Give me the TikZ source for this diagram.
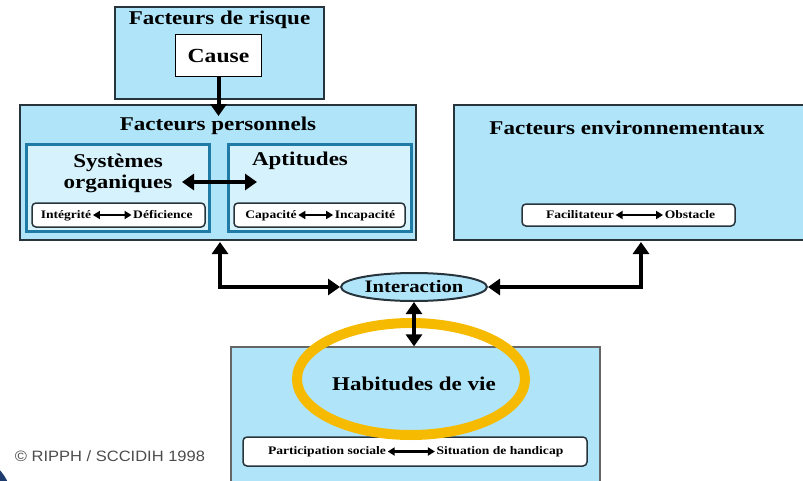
\documentclass[tikz,border=0pt]{standalone}
\usepackage{fontspec}
\setmainfont{Liberation Serif}[FakeStretch=1.18]
\newfontfamily\copyfont{Liberation Sans}[FakeStretch=1.1]
\usepackage{xcolor}
\usetikzlibrary{arrows.meta,shapes.geometric}
\definecolor{paleblue}{RGB}{176,229,249}
\definecolor{innerblue}{RGB}{214,242,252}
\definecolor{tealline}{RGB}{32,122,166}
\definecolor{boxline}{RGB}{40,52,60}
\definecolor{ringorange}{RGB}{246,186,0}
\definecolor{cornerblue}{RGB}{30,60,110}
\tikzset{
outerbox/.style={draw=boxline, fill=paleblue, line width=2pt, inner sep=0pt},
innerbox/.style={draw=tealline, fill=innerblue, line width=3pt, inner sep=0pt},
scalebox/.style={draw=boxline, fill=white, line width=1.5pt, rounded corners=4pt, inner sep=0pt},
title/.style={font=\fontsize{19.5}{21}\selectfont\bfseries, inner sep=0pt},
small/.style={font=\fontsize{11.5}{13}\selectfont\bfseries, inner sep=1.5pt, text height=8pt, text depth=2pt},
bigarrow/.style={line width=4pt, {Triangle[width=16pt,length=12pt]}-{Triangle[width=16pt,length=12pt]}},
smallarrow/.style={line width=2.2pt, {Triangle[width=8pt,length=7pt]}-{Triangle[width=8pt,length=7pt]}}
}

\begin{document}
\begin{tikzpicture}[x=1pt,y=-1pt]
 \useasboundingbox (0,0) rectangle (803,480);

 % risk factors and cause
 \node[outerbox, minimum width=209pt, minimum height=92pt] (risque) at (219.5,52.5) {};
 \node[title] (risquelabel) at (219.5,20) {Facteurs de risque};
 \node[draw=black, fill=white, line width=1.5pt, minimum width=86pt, minimum height=42pt, inner sep=0pt, font=\fontsize{20}{22}\selectfont\bfseries] (cause) at (218.5,55.5) {Cause};

 % personal factors
 \node[outerbox, minimum width=396pt, minimum height=135pt] (perso) at (218,172.5) {};
 \node[title] (persolabel) at (218,126) {Facteurs personnels};
 \node[innerbox, minimum width=183pt, minimum height=87pt] (systemes) at (118,188) {};
 \node[innerbox, minimum width=183pt, minimum height=87pt] (aptitudes) at (320,188) {};
 \node[title, align=center] (systlabel) at (118,173) {Systèmes\\organiques};
 \node[title] (aptlabel) at (300,161) {Aptitudes};
 \coordinate (systeast) at (182,182);
 \coordinate (aptwest) at (257,182);

 \node[scalebox, minimum width=173pt, minimum height=24pt] (integbox) at (118.5,215) {};
 \node[small] (integ) at (66,215) {Intégrité};
 \node[small] (defic) at (163,215) {Déficience};
 \node[scalebox, minimum width=171pt, minimum height=24pt] (capbox) at (319.5,215) {};
 \node[small] (capa) at (271,215) {Capacité};
 \node[small] (incapa) at (365,215) {Incapacité};

 % environmental factors
 \node[outerbox, minimum width=356pt, minimum height=135pt] (env) at (632,172.5) {};
 \node[title] (envlabel) at (627,128) {Facteurs environnementaux};
 \node[scalebox, minimum width=213pt, minimum height=22pt] (facbox) at (628.5,215) {};
 \node[small] (facil) at (580,215) {Facilitateur};
 \node[small] (obst) at (690,215) {Obstacle};

 % interaction and life habits
 \node[ellipse, draw=boxline, fill=paleblue, line width=2pt, minimum width=146pt, minimum height=28pt, inner sep=0pt, font=\fontsize{17.5}{19}\selectfont\bfseries] (inter) at (414,287) {Interaction};
 \node[draw=gray!80!black, fill=paleblue, line width=1.2pt, minimum width=369pt, minimum height=143pt, inner sep=0pt] (habit) at (415.5,418.5) {};
 \node[title] (habitlabel) at (414,384) {Habitudes de vie};
 \node[scalebox, minimum width=344pt, minimum height=29pt] (partbox) at (415,451.5) {};
 \node[small] (partic) at (327,451.5) {Participation sociale};
 \node[small] (handicap) at (500,451.5) {Situation de handicap};
 \draw[ringorange, line width=10pt] (411,379) ellipse [x radius=114, y radius=56];

 \coordinate (causetip) at (218.5,116);
 \coordinate (persofoot) at (220,242);
 \coordinate (envfoot) at (641,242);

 % connectors
 \draw[line width=4pt, -{Triangle[width=16pt,length=12pt]}] (cause.south) -- (causetip);
 \draw[bigarrow] (systeast) -- (aptwest);
 \draw[bigarrow] (inter.west) -| (persofoot);
 \draw[bigarrow] (inter.east) -| (envfoot);
 \draw[bigarrow] (inter.south) -- (inter.south |- habit.north);
 \draw[smallarrow] (integ) -- (defic);
 \draw[smallarrow] (capa) -- (incapa);
 \draw[smallarrow] (facil) -- (obst);
 \draw[smallarrow] (partic) -- (handicap);

 \node[font=\copyfont\fontsize{15}{17}\selectfont, text=black!70, inner sep=0pt] (copyright) at (110,456) {© RIPPH / SCCIDIH 1998};
 \fill[cornerblue] (-40,505) circle [radius=53];
\end{tikzpicture}
\end{document}
